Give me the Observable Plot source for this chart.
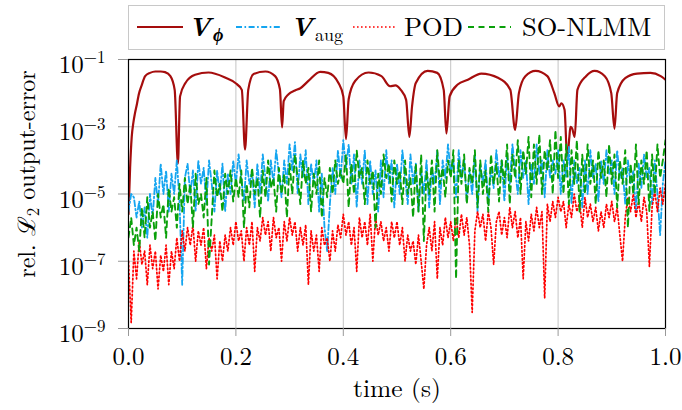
<!DOCTYPE html>
<html><head><meta charset="utf-8">
<script src="https://cdn.jsdelivr.net/npm/d3@7"></script>
<script src="https://cdn.jsdelivr.net/npm/@observablehq/plot@0.6"></script>
<style>
html,body{margin:0;padding:0;background:#fff;}
#wrap{position:relative;width:682px;height:410px;overflow:hidden;font-family:'Latin Modern Roman','Liberation Serif',serif;background:#fff;}
#legend{position:absolute;left:0;top:0;}
svg text, svg tspan{font-family:'Latin Modern Roman','Liberation Serif',serif !important;}
</style></head><body>
<div id="wrap"><div id="chart"></div><svg id="legend" width="682" height="56"></svg></div>
<script>
// ---- data ----
const xTicks = [0, 0.2, 0.4, 0.6, 0.8, 1.0];
const xTickLabels = ["0.0", "0.2", "0.4", "0.6", "0.8", "1.0"];
const yTicks = [1e-9, 1e-7, 1e-5, 1e-3, 1e-1];
const yTickExp = ["−9", "−7", "−5", "−3", "−1"];

// V_phi (smooth, with dips)
const tPhi = [0,0.003,0.006,0.009,0.012,0.016,0.019,0.025,0.031,0.04,0.05,0.06,0.068,0.078,0.086,0.092,0.096,0.106,0.124,0.149,
0.18,0.199,0.211,0.217,0.223,0.233,0.255,0.273,0.282,0.286,0.289,0.298,0.31,0.32,0.335,0.357,0.372,0.391,0.4,0.405,
0.41,0.422,0.447,0.471,0.487,0.497,0.507,0.517,0.523,0.528,0.535,0.557,0.575,0.587,0.592,0.598,0.613,0.632,0.657,0.689,
0.711,0.72,0.727,0.739,0.758,0.78,0.793,0.802,0.806,0.812,0.817,0.821,0.823,0.826,0.831,0.836,0.852,0.868,0.887,0.899,
0.905,0.91,0.925,0.947,0.972,0.991,1.0];
const vPhi = [2.5e-6,6e-5,5e-4,1.3e-3,2.5e-3,5e-3,9e-3,1.8e-2,3.2e-2,4e-2,4.4e-2,4.4e-2,4.2e-2,3.2e-2,1.25e-2,8e-5,8e-3,2e-2,3.5e-2,4.1e-2,
2.9e-2,2e-2,1.25e-2,2.1e-4,1.25e-2,3.7e-2,4.4e-2,3.2e-2,1.3e-2,9.5e-4,5.8e-3,9.3e-3,1.2e-2,1.4e-2,2.3e-2,4.3e-2,4e-2,2e-2,8e-3,4.3e-4,
6.6e-3,2.3e-2,4.1e-2,3.2e-2,1.6e-2,1.7e-2,1.25e-2,6.3e-3,5e-4,4e-3,2e-2,4.6e-2,4e-2,1.25e-2,6.3e-4,8e-3,1.8e-2,2.5e-2,3.8e-2,2.8e-2,
1.25e-2,8e-4,1e-2,3.2e-2,4.6e-2,3.2e-2,1e-2,4e-3,5e-3,3.2e-3,1.1e-4,5e-4,1e-3,9e-4,5e-4,1.25e-2,3.2e-2,4.6e-2,3.2e-2,1e-2,
8.7e-4,1e-2,2.8e-2,3.8e-2,4e-2,3.2e-2,2.5e-2];

// sampling times of the noisy series
const tNoise = [0,0.005,0.01,0.015,0.02,0.025,0.03,0.035,0.04,0.045,0.05,0.055,0.06,0.065,0.07,0.075,0.08,0.085,0.09,0.095,
0.1,0.105,0.11,0.115,0.12,0.125,0.13,0.135,0.14,0.145,0.15,0.155,0.16,0.165,0.17,0.175,0.18,0.185,0.19,0.195,
0.2,0.205,0.21,0.215,0.22,0.225,0.23,0.235,0.24,0.245,0.25,0.255,0.26,0.265,0.27,0.275,0.28,0.285,0.29,0.295,
0.3,0.305,0.31,0.315,0.32,0.325,0.33,0.335,0.34,0.345,0.35,0.355,0.36,0.365,0.37,0.375,0.38,0.385,0.39,0.395,
0.4,0.405,0.41,0.415,0.42,0.425,0.43,0.435,0.44,0.445,0.45,0.455,0.46,0.465,0.47,0.475,0.48,0.485,0.49,0.495,
0.5,0.505,0.51,0.515,0.52,0.525,0.53,0.535,0.54,0.545,0.55,0.555,0.56,0.565,0.57,0.575,0.58,0.585,0.59,0.595,
0.6,0.605,0.61,0.615,0.62,0.625,0.63,0.635,0.64,0.645,0.65,0.655,0.66,0.665,0.67,0.675,0.68,0.685,0.69,0.695,
0.7,0.705,0.71,0.715,0.72,0.725,0.73,0.735,0.74,0.745,0.75,0.755,0.76,0.765,0.77,0.775,0.78,0.785,0.79,0.795,
0.8,0.805,0.81,0.815,0.82,0.825,0.83,0.835,0.84,0.845,0.85,0.855,0.86,0.865,0.87,0.875,0.88,0.885,0.89,0.895,
0.9,0.905,0.91,0.915,0.92,0.925,0.93,0.935,0.94,0.945,0.95,0.955,0.96,0.965,0.97,0.975,0.98,0.985,0.99,0.995,1.0];

const vAug = [3e-6,1e-5,8e-6,2e-6,6e-6,1e-6,4e-6,5e-7,1e-5,2e-6,3e-5,5e-6,8e-5,1e-5,5e-5,3e-6,4e-5,1e-5,1e-4,6e-6,
2e-8,3e-5,8e-5,1e-5,5e-5,3e-6,1e-4,2e-5,6e-5,5e-6,1e-4,2e-5,3e-6,5e-5,1e-5,8e-5,3e-6,4e-5,1e-5,1e-4,
2e-5,1.5e-4,3e-5,6e-6,1e-4,2e-5,5e-5,4e-6,8e-5,1e-5,1.5e-4,3e-5,6e-6,1e-4,2e-5,2e-4,4e-5,8e-6,1e-4,2e-5,
3e-4,5e-5,3.5e-4,1e-5,1.5e-4,3e-5,2e-4,5e-6,8e-5,2e-5,1e-4,3e-6,4e-5,1e-6,2e-7,5e-6,6e-5,1e-5,2e-4,3e-5,
4e-4,6e-5,3e-4,2e-5,1.5e-4,4e-6,1e-4,2e-5,2e-4,5e-6,1e-4,1e-5,5e-5,3e-6,1e-4,8e-6,2e-4,2e-5,1e-4,4e-6,
8e-5,1e-5,2e-4,3e-5,5e-6,1.5e-4,2e-5,8e-5,3e-6,5e-5,1e-5,1e-4,4e-6,6e-5,2e-5,2e-4,5e-6,1e-4,3e-5,3e-4,
4e-5,1e-4,8e-6,2e-4,3e-5,1e-4,6e-6,5e-5,1e-5,1.5e-4,3e-6,8e-5,2e-5,1e-4,5e-6,6e-5,1.5e-5,2e-4,3e-5,1e-4,
6e-6,1.5e-4,2e-5,3e-4,5e-5,1e-5,2e-4,3e-5,1e-4,5e-6,8e-5,2e-5,3e-4,4e-5,1e-4,8e-6,2e-4,3e-5,1e-4,4e-5,
2e-4,1e-5,1e-4,3e-5,2.5e-4,5e-6,1e-4,2e-5,6e-5,4e-6,1e-4,1e-5,2e-4,3e-5,8e-5,6e-6,1e-4,2e-5,2e-4,4e-5,
1e-4,1e-5,2e-4,3e-5,6e-5,5e-6,1e-4,2e-5,5e-5,3e-6,8e-5,1.5e-5,1.5e-4,3e-5,6e-5,5e-6,1e-4,1e-5,6e-7,2e-5,1e-4];

const pod = [1e-7,1.5e-9,2e-7,3e-8,4e-7,8e-8,2e-7,2e-8,3e-7,6e-8,2e-7,1.5e-8,1.5e-7,5e-8,3e-7,2e-8,2e-7,6e-8,5e-7,1e-7,
8e-7,2e-7,1e-6,3e-7,1.2e-6,1e-7,8e-7,3e-7,1e-6,6e-8,5e-7,2e-7,6e-7,3e-8,4e-7,1e-7,6e-7,2e-7,1e-6,3e-7,
1.5e-6,4e-7,8e-7,1e-7,1e-6,3e-7,1.5e-6,5e-8,1e-6,4e-7,2e-6,6e-7,1.5e-6,2e-7,2e-6,5e-7,1e-6,1e-7,1.5e-6,4e-7,
2e-6,6e-7,1.5e-6,2e-7,1e-6,3e-7,1.2e-6,2e-8,8e-7,2e-7,6e-7,5e-8,1e-6,3e-7,5e-7,1e-7,8e-7,2e-7,1.2e-6,5e-7,
2.5e-6,6e-7,1.5e-6,3e-7,1e-6,5e-8,2e-6,5e-7,1.5e-6,3e-7,2.5e-6,1e-7,2e-6,6e-7,1.5e-6,4e-7,1e-6,2e-7,1.5e-6,5e-7,
1.5e-6,3e-7,1e-6,1e-7,6e-7,2e-7,4e-7,8e-8,6e-7,1e-7,1.5e-8,3e-7,1e-6,2e-7,1.5e-6,3e-8,1e-6,3e-7,2e-6,5e-7,
1.5e-6,4e-7,2e-6,5e-7,2.5e-6,6e-7,2e-6,3e-7,3e-9,8e-7,3e-6,1e-6,2.5e-6,4e-7,3e-6,1e-6,8e-8,1.5e-6,3e-6,6e-7,
2e-6,5e-7,4e-6,1e-6,3e-6,5e-7,2e-6,3e-8,1.5e-6,4e-7,2.5e-6,8e-7,4e-6,1e-6,3e-6,8e-9,5e-6,1.5e-6,6e-6,2e-6,
8e-6,3e-6,6e-6,1e-6,5e-6,2e-6,1e-5,3e-6,6e-6,1e-6,8e-6,2e-6,5e-6,1.5e-6,4e-6,8e-7,3e-6,1e-6,5e-6,2e-6,
6e-6,1.5e-6,4e-6,6e-7,1e-7,2e-6,8e-6,3e-6,1e-5,2e-6,6e-6,1.5e-6,8e-6,3e-6,7e-8,4e-6,1.2e-5,3e-6,1.5e-5,5e-6,2e-5];

const soNlmm = [5e-7,2e-6,3e-7,1e-6,2e-7,4e-6,5e-7,8e-6,1e-6,3e-6,4e-7,1e-5,2e-6,5e-6,5e-7,1.5e-5,3e-6,8e-6,1e-6,2e-5,
3e-6,3e-5,5e-6,2e-5,1e-6,4e-5,5e-6,1e-5,2e-6,3e-5,8e-8,2e-6,5e-5,8e-6,2e-5,3e-6,4e-5,1e-5,5e-5,6e-6,
3e-5,8e-6,5e-5,1e-6,2e-5,4e-6,6e-5,1e-5,3e-5,2e-6,5e-5,8e-6,1e-4,1.5e-5,3e-5,3e-6,6e-5,1e-5,4e-5,2e-6,
8e-5,1e-5,1.5e-4,3e-5,5e-6,1e-4,2e-5,6e-5,3e-6,4e-5,1e-5,1e-4,2e-6,3e-5,8e-6,6e-5,1e-5,1e-4,2e-5,5e-5,
2e-5,1.5e-4,4e-6,8e-5,1e-5,2e-4,3e-5,6e-5,5e-6,1e-4,2e-5,5e-5,1e-6,4e-5,1e-5,1.5e-4,3e-5,8e-5,6e-6,1e-4,
2e-5,5e-5,5e-6,1e-4,1e-5,3e-5,2e-6,8e-5,3e-6,1.5e-4,4e-7,5e-5,1e-5,1e-4,3e-6,2e-4,2e-5,6e-5,8e-6,1e-4,
3e-5,2e-4,3e-8,1e-4,2e-5,1.5e-4,5e-6,6e-5,2e-5,2e-4,4e-6,1e-4,1e-5,5e-5,3e-6,1.5e-4,2e-5,8e-5,6e-6,1e-4,
2e-5,3e-4,5e-6,1.5e-4,3e-5,4e-4,1e-5,2e-4,4e-5,5e-4,8e-6,3e-4,2e-5,6e-4,1e-5,2e-4,5e-5,4e-4,1e-5,8e-4,
3e-5,5e-4,1e-5,3e-4,5e-6,2e-4,2e-5,4e-4,3e-6,1.5e-4,1e-5,3e-4,2e-5,1e-4,5e-6,2e-4,3e-5,1e-4,8e-6,3e-4,
2e-5,1.5e-4,4e-6,1e-4,2e-5,2e-4,1e-6,8e-5,1e-5,3e-4,5e-6,1e-4,2e-5,2e-4,3e-6,1.5e-4,1e-5,3e-4,3e-5,1e-4,4e-4];

// ---- styles ----
const FONT = "'Latin Modern Roman', 'Liberation Serif', serif";
const C = {phi: "#a50d0d", aug: "#14a5f0", pod: "#ff0000", so: "#0aa00a"};
const DASH = {aug: "6,2.5,1.6,2.5", pod: "1.6,2.4", so: "6,4.5"};
const W = {phi: 2.2, aug: 1.8, pod: 1.7, so: 1.9};

const phiRows = tPhi.map((t, i) => ({t, v: vPhi[i]}));
const noiseRows = tNoise.map((t, i) => ({t, aug: vAug[i], pod: pod[i], so: soNlmm[i]}));

const plot = Plot.plot({
  width: 682, height: 410,
  marginTop: 59, marginBottom: 82, marginLeft: 128, marginRight: 17,
  style: {fontFamily: FONT, background: "#fff", color: "#000"},
  x: {type: "linear", domain: [0, 1]},
  y: {type: "log", domain: [1e-9, 1e-1]},
  marks: [
    Plot.gridX(xTicks.slice(1, -1), {stroke: "#c4c4c4", strokeOpacity: 1, strokeWidth: 1}),
    Plot.gridY(yTicks.slice(1, -1), {stroke: "#c4c4c4", strokeOpacity: 1, strokeWidth: 1}),
    Plot.line(phiRows, {x: "t", y: "v", stroke: C.phi, strokeWidth: W.phi, curve: "monotone-x", clip: true}),
    Plot.line(noiseRows, {x: "t", y: "aug", stroke: C.aug, strokeWidth: W.aug, strokeDasharray: DASH.aug, clip: true}),
    Plot.line(noiseRows, {x: "t", y: "pod", stroke: C.pod, strokeWidth: W.pod, strokeDasharray: DASH.pod, clip: true}),
    Plot.line(noiseRows, {x: "t", y: "so", stroke: C.so, strokeWidth: W.so, strokeDasharray: DASH.so, clip: true}),
    Plot.frame({stroke: "#000", strokeWidth: 1.2}),
    Plot.axisX(xTicks, {tickFormat: d => xTickLabels[xTicks.indexOf(d)], tickSize: 8, tickPadding: 11,
      stroke: "#999", fontSize: 25, label: null}),
    Plot.axisY(yTicks, {tickFormat: d => "10^" + yTickExp[yTicks.indexOf(d)], tickSize: 10, tickPadding: 13,
      stroke: "#999", fontSize: 25, label: null}),
    Plot.text(["time (s)"], {text: d => d, frameAnchor: "bottom", dy: 68, fontSize: 25.5, textAnchor: "middle"}),
    Plot.text(["rel. ℒ|2| output-error"], {text: d => d, frameAnchor: "left", rotate: -90, dx: -101, dy: -20,
      fontSize: 24, textAnchor: "middle"})
  ]
});
document.getElementById("chart").appendChild(plot);

// superscript tick labels 10^k and subscript in y label
d3.select(plot).selectAll("text").each(function () {
  const s = d3.select(this);
  const txt = s.text();
  if (txt.includes("^")) {
    const parts = txt.split("^");
    s.text(null);
    s.append("tspan").attr("dy", 5.5).text(parts[0]);
    s.append("tspan").attr("dy", -10).attr("font-size", 17).text(parts[1]);
  } else if (txt.includes("|")) {
    const parts = txt.split("|");
    s.text(null);
    s.append("tspan").text(parts[0]);
    s.append("tspan").attr("dy", 4).attr("font-size", 17).text(parts[1]);
    s.append("tspan").attr("dy", -4).text(parts[2]);
  }
});

// ---- legend ----
const legendLabels = [
  {main: "V", sub: "ϕ", subStyle: "math"},
  {main: "V", sub: "aug", subStyle: "roman"},
  {main: "POD"},
  {main: "SO-NLMM"}
];
const legendKeys = ["phi", "aug", "pod", "so"];
const legendPos = [[137, 183, 188], [236, 282, 290], [353, 397, 404], [468, 511, 522]];
const lg = d3.select("#legend");
lg.append("rect").attr("x", 128.5).attr("y", 5.5).attr("width", 536).attr("height", 44)
  .attr("fill", "#fff").attr("stroke", "#c8c8c8").attr("stroke-width", 1);
legendKeys.forEach((k, i) => {
  const [x0, x1, tx] = legendPos[i];
  lg.append("line").attr("x1", x0).attr("x2", x1).attr("y1", 27).attr("y2", 27)
    .attr("stroke", C[k]).attr("stroke-width", W[k]).attr("stroke-dasharray", DASH[k] || null);
  const L = legendLabels[i];
  const t = lg.append("text").attr("x", tx).attr("y", 36).attr("font-size", 26.5)
    .attr("font-family", FONT).attr("fill", "#000");
  if (L.sub) {
    t.append("tspan").attr("font-weight", "bold").attr("font-style", "italic").text(L.main);
    const st = t.append("tspan").attr("dx", 2).attr("dy", 5).attr("font-size", 18).text(L.sub);
    if (L.subStyle === "math") st.attr("font-weight", "bold").attr("font-style", "italic");
  } else {
    t.text(L.main);
  }
});
</script>
</body></html>
